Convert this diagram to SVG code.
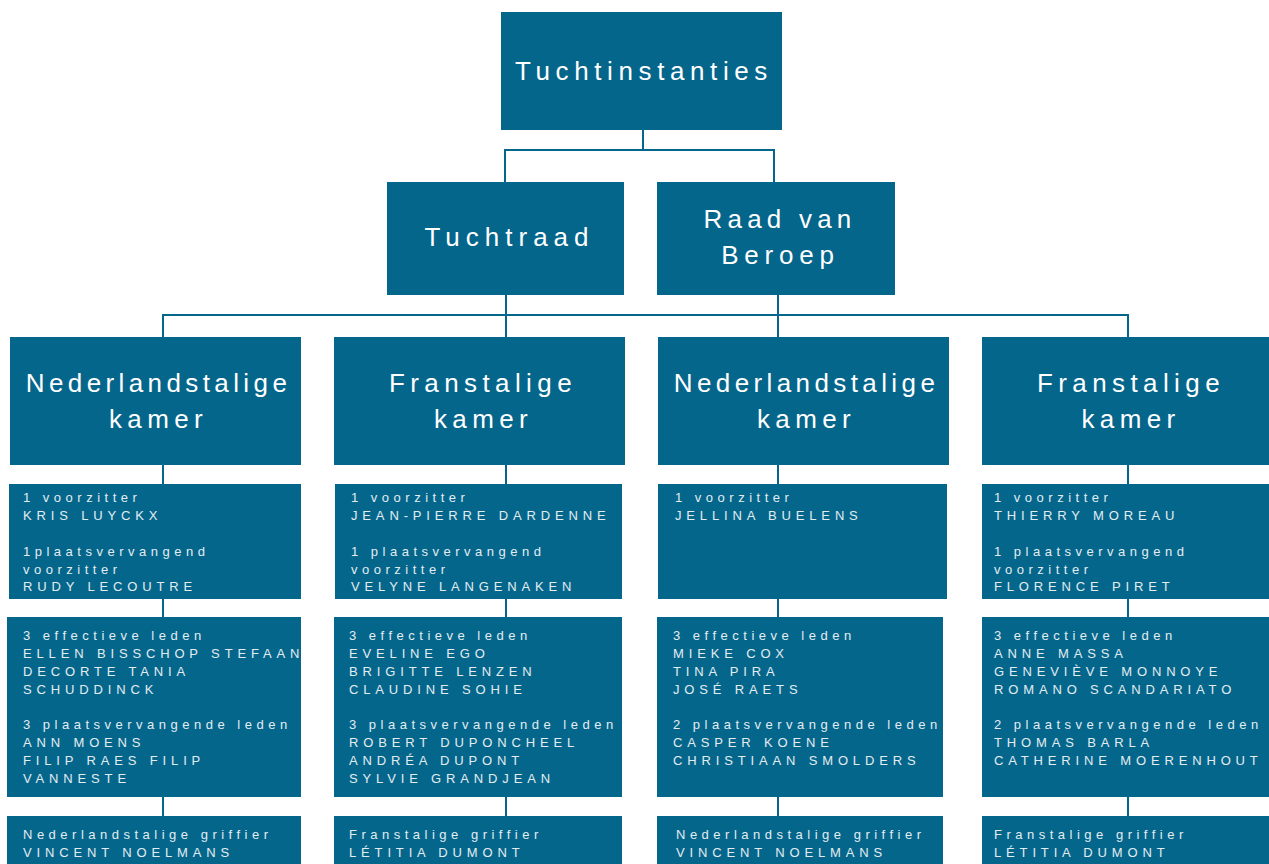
<svg xmlns="http://www.w3.org/2000/svg" width="1269" height="864" viewBox="0 0 1269 864">
<style>
.box{fill:#05668c}
.con{stroke:#05668c;stroke-width:2;fill:none}
.big{font-family:"Liberation Sans",Arial,sans-serif;font-size:26px;fill:#ffffff;letter-spacing:4px;text-anchor:middle}
.ned{letter-spacing:4.4px}
.fr{letter-spacing:5.4px}
.kam{letter-spacing:5.4px}
.sm{font-family:"Liberation Sans",Arial,sans-serif;font-size:13px;fill:#e3edf1;letter-spacing:4.5px}
.up{letter-spacing:4.85px}
</style>
<rect width="1269" height="864" fill="#ffffff"/>
<g id="connectors">
<path class="con" d="M643 130V150M505 150H774M505 149V182M774 149V182"/>
<path class="con" d="M506 295V337M778 295V337M163 315H1128M163 314V337M1128 314V337"/>
<path class="con" d="M163 465V484M163 599V617M163 797V816"/>
<path class="con" d="M506 465V484M506 599V617M506 797V816"/>
<path class="con" d="M778 465V484M778 599V617M778 797V816"/>
<path class="con" d="M1128 465V484M1128 599V617M1128 797V816"/>
</g>
<g id="n-tuchtinstanties"><rect class="box" x="501" y="12" width="281" height="118"/><text class="big" x="644" y="80" style="letter-spacing:5.6px">Tuchtinstanties</text></g>
<g id="n-tuchtraad"><rect class="box" x="387" y="182" width="237" height="113"/><text class="big" x="509.5" y="246" style="letter-spacing:6px">Tuchtraad</text></g>
<g id="n-raad"><rect class="box" x="657" y="182" width="238" height="113"/><text class="big" x="780" y="228" style="letter-spacing:5.2px">Raad van</text><text class="big" x="780.5" y="264" style="letter-spacing:5.8px">Beroep</text></g>
<g id="n-kamer1"><rect class="box" x="10" y="337" width="291" height="128"/><text class="big ned" x="158.5" y="392">Nederlandstalige</text><text class="big kam" x="158.5" y="428">kamer</text></g>
<g id="n-kamer2"><rect class="box" x="334" y="337" width="291" height="128"/><text class="big fr" x="483" y="392">Franstalige</text><text class="big kam" x="483.5" y="428">kamer</text></g>
<g id="n-kamer3"><rect class="box" x="658" y="337" width="291" height="128"/><text class="big ned" x="806.5" y="392">Nederlandstalige</text><text class="big kam" x="806.5" y="428">kamer</text></g>
<g id="n-kamer4"><rect class="box" x="982" y="337" width="287" height="128"/><text class="big fr" x="1131" y="392">Franstalige</text><text class="big kam" x="1131" y="428">kamer</text></g>
<g id="n-vz1"><rect class="box" x="9" y="484" width="292" height="115"/><text class="sm" x="23" y="502"><tspan x="23">1 voorzitter</tspan><tspan class="up" x="23" dy="18">KRIS LUYCKX</tspan><tspan x="23" dy="36">1plaatsvervangend</tspan><tspan x="23" dy="17.5">voorzitter</tspan><tspan class="up" x="23" dy="17.5">RUDY LECOUTRE</tspan></text></g>
<g id="n-vz2"><rect class="box" x="335" y="484" width="287" height="115"/><text class="sm" x="351" y="502"><tspan x="351">1 voorzitter</tspan><tspan class="up" x="351" dy="18">JEAN-PIERRE DARDENNE</tspan><tspan x="351" dy="36">1 plaatsvervangend</tspan><tspan x="351" dy="17.5">voorzitter</tspan><tspan class="up" x="351" dy="17.5">VELYNE LANGENAKEN</tspan></text></g>
<g id="n-vz3"><rect class="box" x="658" y="484" width="289" height="115"/><text class="sm" x="675" y="502"><tspan x="675">1 voorzitter</tspan><tspan class="up" x="675" dy="18">JELLINA BUELENS</tspan></text></g>
<g id="n-vz4"><rect class="box" x="982" y="484" width="287" height="115"/><text class="sm" x="994" y="502"><tspan x="994">1 voorzitter</tspan><tspan class="up" x="994" dy="18">THIERRY MOREAU</tspan><tspan x="994" dy="36">1 plaatsvervangend</tspan><tspan x="994" dy="17.5">voorzitter</tspan><tspan class="up" x="994" dy="17.5">FLORENCE PIRET</tspan></text></g>
<g id="n-leden1"><rect class="box" x="7" y="617" width="294" height="180"/><text class="sm" x="23" y="640"><tspan x="23">3 effectieve leden</tspan><tspan class="up" x="23" dy="18">ELLEN BISSCHOP STEFAAN</tspan><tspan class="up" x="23" dy="18">DECORTE TANIA</tspan><tspan class="up" x="23" dy="18">SCHUDDINCK</tspan><tspan x="23" dy="35">3 plaatsvervangende leden</tspan><tspan class="up" x="23" dy="18">ANN MOENS</tspan><tspan class="up" x="23" dy="18">FILIP RAES FILIP</tspan><tspan class="up" x="23" dy="18">VANNESTE</tspan></text></g>
<g id="n-leden2"><rect class="box" x="334" y="617" width="288" height="180"/><text class="sm" x="349" y="640"><tspan x="349">3 effectieve leden</tspan><tspan class="up" x="349" dy="18">EVELINE EGO</tspan><tspan class="up" x="349" dy="18">BRIGITTE LENZEN</tspan><tspan class="up" x="349" dy="18">CLAUDINE SOHIE</tspan><tspan x="349" dy="35">3 plaatsvervangende leden</tspan><tspan class="up" x="349" dy="18">ROBERT DUPONCHEEL</tspan><tspan class="up" x="349" dy="18">ANDRÉA DUPONT</tspan><tspan class="up" x="349" dy="18">SYLVIE GRANDJEAN</tspan></text></g>
<g id="n-leden3"><rect class="box" x="657" y="617" width="286" height="180"/><text class="sm" x="673" y="640"><tspan x="673">3 effectieve leden</tspan><tspan class="up" x="673" dy="18">MIEKE COX</tspan><tspan class="up" x="673" dy="18">TINA PIRA</tspan><tspan class="up" x="673" dy="18">JOSÉ RAETS</tspan><tspan x="673" dy="35">2 plaatsvervangende leden</tspan><tspan class="up" x="673" dy="18">CASPER KOENE</tspan><tspan class="up" x="673" dy="18">CHRISTIAAN SMOLDERS</tspan></text></g>
<g id="n-leden4"><rect class="box" x="982" y="617" width="287" height="180"/><text class="sm" x="994" y="640"><tspan x="994">3 effectieve leden</tspan><tspan class="up" x="994" dy="18">ANNE MASSA</tspan><tspan class="up" x="994" dy="18">GENEVIÈVE MONNOYE</tspan><tspan class="up" x="994" dy="18">ROMANO SCANDARIATO</tspan><tspan x="994" dy="35">2 plaatsvervangende leden</tspan><tspan class="up" x="994" dy="18">THOMAS BARLA</tspan><tspan class="up" x="994" dy="18">CATHERINE MOERENHOUT</tspan></text></g>
<g id="n-griffier1"><rect class="box" x="7" y="816" width="294" height="60"/><text class="sm" x="23" y="839"><tspan x="23">Nederlandstalige griffier</tspan><tspan class="up" x="23" dy="18">VINCENT NOELMANS</tspan></text></g>
<g id="n-griffier2"><rect class="box" x="334" y="816" width="288" height="60"/><text class="sm" x="349" y="839"><tspan x="349">Franstalige griffier</tspan><tspan class="up" x="349" dy="18">LÉTITIA DUMONT</tspan></text></g>
<g id="n-griffier3"><rect class="box" x="657" y="816" width="286" height="60"/><text class="sm" x="676" y="839"><tspan x="676">Nederlandstalige griffier</tspan><tspan class="up" x="676" dy="18">VINCENT NOELMANS</tspan></text></g>
<g id="n-griffier4"><rect class="box" x="982" y="816" width="287" height="60"/><text class="sm" x="994" y="839"><tspan x="994">Franstalige griffier</tspan><tspan class="up" x="994" dy="18">LÉTITIA DUMONT</tspan></text></g>
</svg>
